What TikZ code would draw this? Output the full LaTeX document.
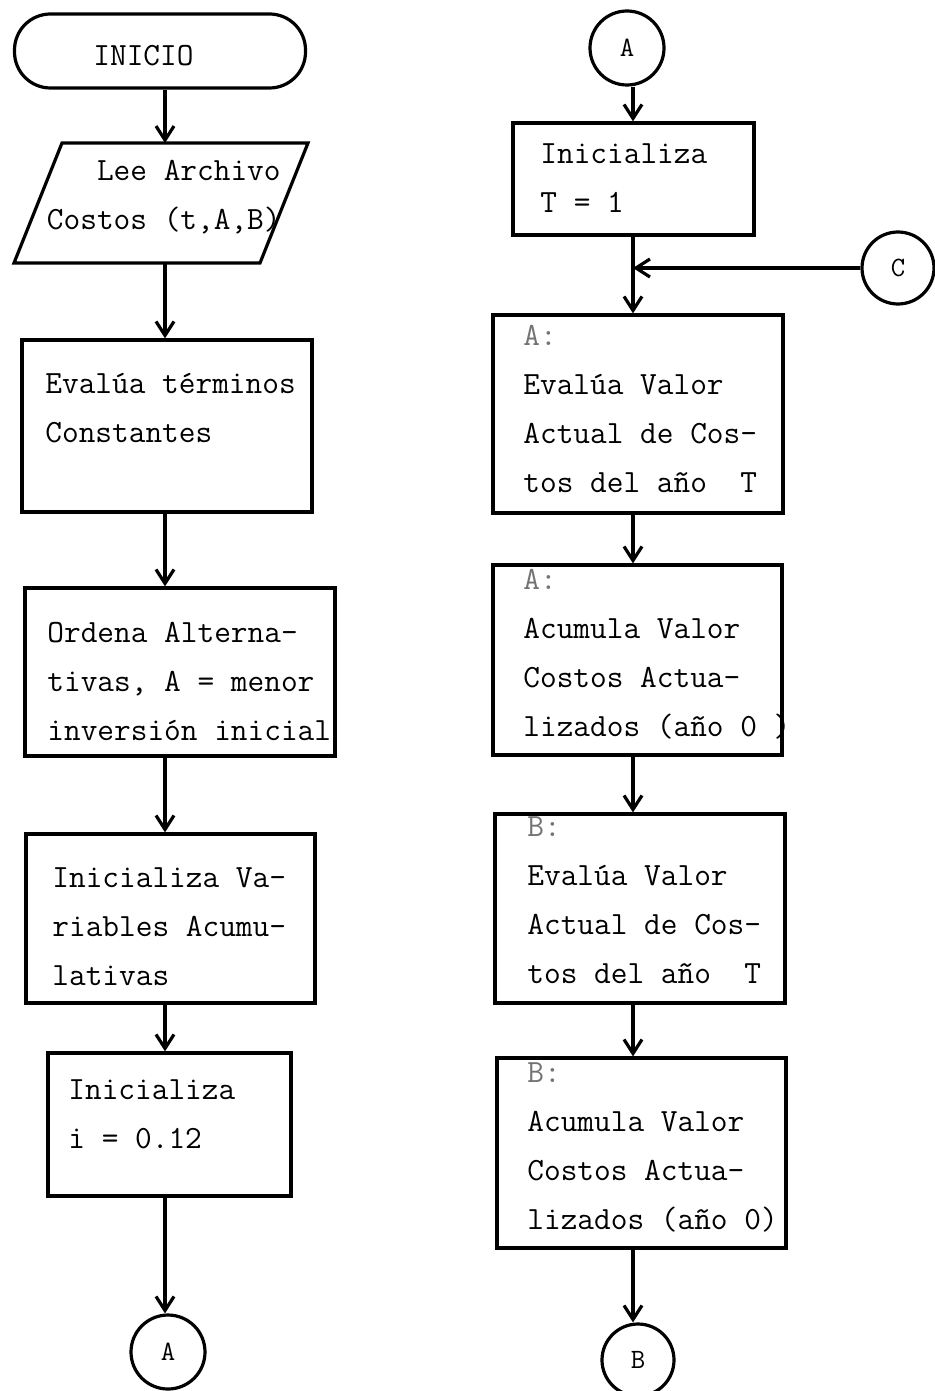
\documentclass[tikz,border=0pt]{standalone}
\usepackage{fontspec}
\usetikzlibrary{arrows.meta}

\tikzset{
	caja/.style={draw, line width=1.6pt, inner sep=0pt},
	texto/.style={anchor=north west, inner sep=0pt, align=left,
		font=\ttfamily\fontsize{16.2}{24.5}\selectfont},
	conector/.style={circle, draw, line width=1.6pt, minimum size=37pt,
		inner sep=0pt, font=\ttfamily\fontsize{14}{16}\selectfont},
	flecha/.style={->, line width=1.6pt},
}
\newcommand{\tenue}[1]{{\color{black!55}#1}}

\begin{document}
\begin{tikzpicture}[x=0.5pt, y=-0.5pt,
	>={Straight Barb[length=7pt,width=9pt]}]
	\useasboundingbox (0,0) rectangle (934,1391);
	% ejes de las columnas
	\coordinate (ejeI) at (165,0);
	\coordinate (ejeD) at (633,0);

	% columna izquierda
	\node[caja, rounded corners=18pt, minimum width=145.5pt, minimum height=37pt] (inicio) at (160,51) {};
	\node[texto] (tInicio) at (93,31) {\strut INICIO};
	% entrada: paralelogramo
	\draw[line width=1.6pt] (62,143) coordinate (leeN) -- (308,143) -- (260,263)
		-- (14,263) coordinate (leeS) -- cycle;
	\node[texto, anchor=north east, align=right] (tLee) at (281,146) {\strut Lee Archivo\\Costos (t,A,B)};
	\node[caja, minimum width=145pt, minimum height=86pt] (evalua) at (167,426) {};
	\node[texto] (tEvalua) at (45,359) {\strut Evalúa términos\\Constantes};
	\node[caja, minimum width=155pt, minimum height=84pt] (ordena) at (180,672) {};
	\node[texto] (tOrdena) at (47,608) {\strut Ordena Alterna-\\tivas, A = menor\\inversión inicial};
	\node[caja, minimum width=144.5pt, minimum height=84.5pt] (iniVar) at (170.5,918.5) {};
	\node[texto] (tIniVar) at (52,853) {\strut Inicializa Va-\\riables Acumu-\\lativas};
	\node[caja, minimum width=121.5pt, minimum height=71.5pt] (iniI) at (169.5,1124.5) {};
	\node[texto] (tIniI) at (68,1065) {\strut Inicializa\\i = 0.12};
	\node[conector] (conA1) at (168,1352) {A};

	\draw[flecha] (inicio.south -| ejeI) -- (leeN -| ejeI);
	\draw[flecha] (leeS -| ejeI) -- (evalua.north -| ejeI);
	\draw[flecha] (evalua.south -| ejeI) -- (ordena.north -| ejeI);
	\draw[flecha] (ordena.south -| ejeI) -- (iniVar.north -| ejeI);
	\draw[flecha] (iniVar.south -| ejeI) -- (iniI.north -| ejeI);
	\draw[flecha] (iniI.south -| ejeI) -- (conA1.north -| ejeI);

	% columna derecha
	\node[conector] (conA2) at (627,48) {A};
	\node[caja, minimum width=120.5pt, minimum height=56pt] (iniT) at (633.5,179) {};
	\node[texto] (tIniT) at (540,129) {\strut Inicializa\\T = 1};
	\node[conector, minimum size=36pt] (conC) at (898,268) {C};
	\node[caja, minimum width=145pt, minimum height=99pt] (evA) at (638,414) {};
	\node[texto] (tEvA) at (523,311) {\strut\tenue{A:}\\Evalúa Valor\\Actual de Cos-\\tos del año\ \ T};
	\node[caja, minimum width=144.5pt, minimum height=95pt] (acA) at (637.5,660) {};
	\node[texto] (tAcA) at (523,555) {\strut\tenue{A:}\\Acumula Valor\\Costos Actua-\\lizados (año 0 )};
	\node[caja, minimum width=145pt, minimum height=94.5pt] (evB) at (640,908.5) {};
	\node[texto] (tEvB) at (527,802) {\strut\tenue{B:}\\Evalúa Valor\\Actual de Cos-\\tos del año\ \ T};
	\node[caja, minimum width=144.5pt, minimum height=95pt] (acB) at (641.5,1153) {};
	\node[texto] (tAcB) at (527,1048) {\strut\tenue{B:}\\Acumula Valor\\Costos Actua-\\lizados (año 0)};
	\node[conector, minimum size=36pt] (conB) at (638,1360) {B};

	\draw[flecha] (conA2.south -| ejeD) -- (iniT.north -| ejeD);
	\draw[flecha] (iniT.south -| ejeD) -- (evA.north -| ejeD);
	\draw[flecha] (conC) -- (conC -| ejeD);
	\draw[flecha] (evA.south -| ejeD) -- (acA.north -| ejeD);
	\draw[flecha] (acA.south -| ejeD) -- (evB.north -| ejeD);
	\draw[flecha] (evB.south -| ejeD) -- (acB.north -| ejeD);
	\draw[flecha] (acB.south -| ejeD) -- (conB.north -| ejeD);
\end{tikzpicture}
\end{document}
